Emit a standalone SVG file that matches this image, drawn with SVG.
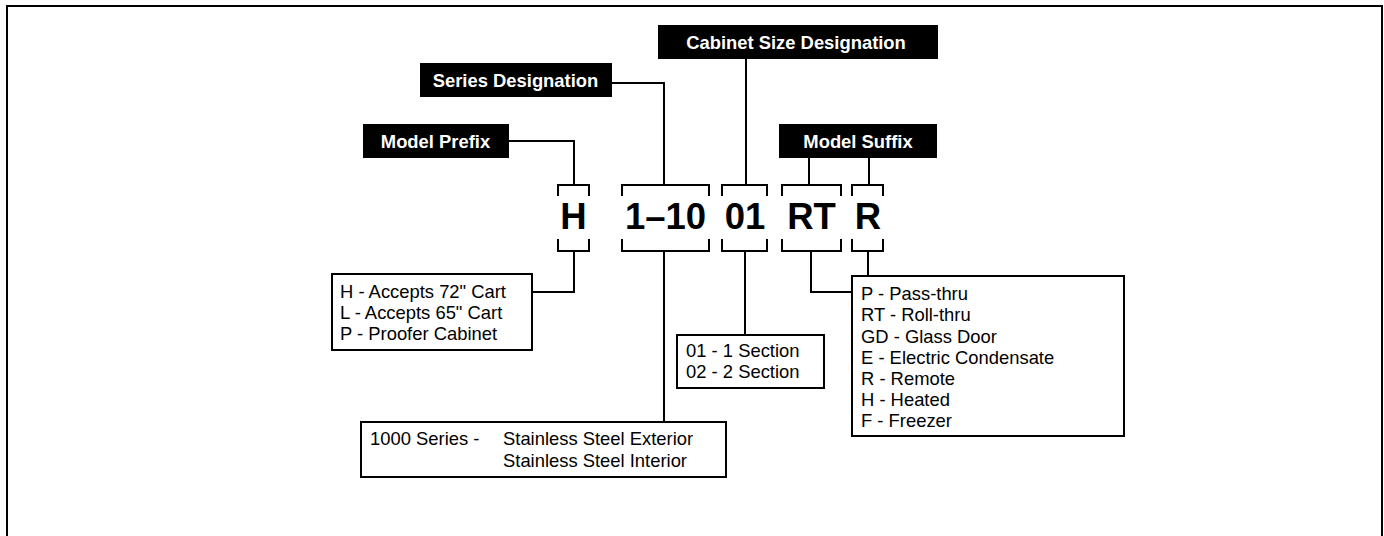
<svg xmlns="http://www.w3.org/2000/svg" width="1384" height="536" viewBox="0 0 1384 536">
<style>
.frame{fill:none;stroke:#000;stroke-width:2}
.lbl{fill:#000}
.lt{font-family:"Liberation Sans",Arial,sans-serif;font-weight:bold;font-size:18.4px;fill:#fff;text-anchor:middle}
.big{font-family:"Liberation Sans",Arial,sans-serif;font-weight:bold;font-size:36.5px;fill:#000;text-anchor:middle}
.box{fill:#fff;stroke:#000;stroke-width:2}
.tx{font-family:"Liberation Sans",Arial,sans-serif;font-size:18.4px;fill:#000}
.ln{fill:none;stroke:#000;stroke-width:2}
</style>
<rect width="1384" height="536" fill="#fff"/>
<path class="frame" d="M7,540 V6 H1382 V540"/>
<g id="connectors">
<path class="ln" d="M509,141 H574 V185"/>
<path class="ln" d="M612,83 H664 V185"/>
<path class="ln" d="M746,59 V185"/>
<path class="ln" d="M809,158 V185"/>
<path class="ln" d="M869,158 V185"/>
<path class="ln" d="M574,251 V292 H532"/>
<path class="ln" d="M664,251 V422"/>
<path class="ln" d="M745,251 V335"/>
<path class="ln" d="M811,251 V292 H852"/>
<path class="ln" d="M868,251 V276"/>
</g>
<g id="label-cabinet"><rect class="lbl" x="658" y="25" width="280" height="34"/><text class="lt" x="796" y="48.5">Cabinet Size Designation</text></g>
<g id="label-series"><rect class="lbl" x="420" y="63" width="192" height="34"/><text class="lt" x="515.5" y="86.5">Series Designation</text></g>
<g id="label-prefix"><rect class="lbl" x="363" y="124" width="146" height="34"/><text class="lt" x="435.5" y="147.5">Model Prefix</text></g>
<g id="label-suffix"><rect class="lbl" x="779" y="124" width="158" height="34"/><text class="lt" x="858" y="147.5">Model Suffix</text></g>
<g id="code-H"><path class="ln" d="M558,196 V185 H589 V196 M558,239 V251 H589 V239"/><text class="big" x="573.5" y="228.5">H</text></g>
<g id="code-series"><path class="ln" d="M622,196 V185 H709 V196 M622,239 V251 H709 V239"/><text class="big" x="665.5" y="228.5">1–10</text></g>
<g id="code-size"><path class="ln" d="M722,196 V185 H767 V196 M722,239 V251 H767 V239"/><text class="big" x="745" y="228.5">01</text></g>
<g id="code-RT"><path class="ln" d="M782,196 V185 H841 V196 M782,239 V251 H841 V239"/><text class="big" x="811.5" y="228.5">RT</text></g>
<g id="code-R"><path class="ln" d="M852,196 V185 H883 V196 M852,239 V251 H883 V239"/><text class="big" x="868" y="228.5">R</text></g>
<g id="desc-prefix"><rect class="box" x="332" y="274" width="200" height="76"/>
<text class="tx" x="340" y="298">H - Accepts 72" Cart</text>
<text class="tx" x="340" y="319">L - Accepts 65" Cart</text>
<text class="tx" x="340" y="340">P - Proofer Cabinet</text></g>
<g id="desc-series"><rect class="box" x="361" y="422" width="365" height="55"/>
<text class="tx" x="370" y="445">1000 Series -</text>
<text class="tx" x="503" y="445">Stainless Steel Exterior</text>
<text class="tx" x="503" y="467">Stainless Steel Interior</text></g>
<g id="desc-size"><rect class="box" x="677" y="335" width="147" height="53"/>
<text class="tx" x="686" y="357">01 - 1 Section</text>
<text class="tx" x="686" y="378">02 - 2 Section</text></g>
<g id="desc-suffix"><rect class="box" x="852" y="276" width="272" height="160"/>
<text class="tx" x="861" y="300">P - Pass-thru</text>
<text class="tx" x="861" y="321">RT - Roll-thru</text>
<text class="tx" x="861" y="342.5">GD - Glass Door</text>
<text class="tx" x="861" y="363.5">E - Electric Condensate</text>
<text class="tx" x="861" y="385">R - Remote</text>
<text class="tx" x="861" y="406">H - Heated</text>
<text class="tx" x="861" y="427">F - Freezer</text></g>
</svg>
